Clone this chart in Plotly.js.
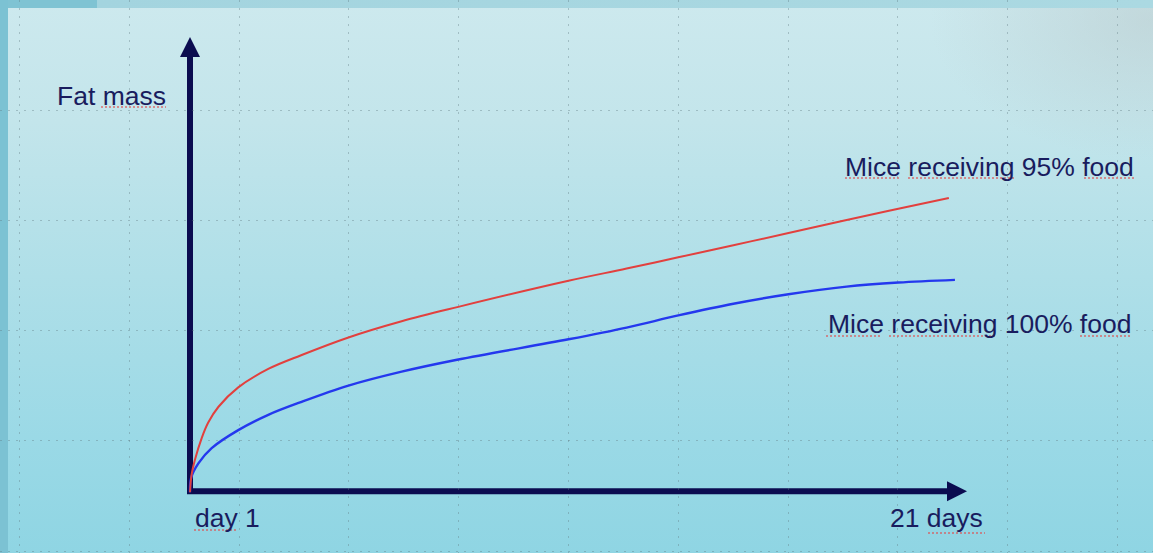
<!DOCTYPE html>
<html>
<head>
<meta charset="utf-8">
<script src="https://cdn.plot.ly/plotly-3.0.1.min.js"></script>
<style>
html,body{margin:0;padding:0;width:1153px;height:553px;overflow:hidden;}
#bg{position:absolute;left:0;top:0;width:1153px;height:553px;background:
 radial-gradient(ellipse 220px 140px at 1150px 20px, rgba(182,196,198,0.45), rgba(182,196,198,0) 100%),
 linear-gradient(180deg,#cde9ee 0%,#c3e5eb 22%,#afdfe8 50%,#9ad9e6 80%,#8fd5e3 100%);}
#topband{position:absolute;left:0;top:0;width:1153px;height:8px;background:linear-gradient(90deg,#7fc3d3 0,#7fc3d3 97px,#a3d4df 97px,#abd9e2 100%);}
#leftband{position:absolute;left:0;top:0;width:8px;height:553px;background:#7cc2d3;}
#chart{position:absolute;left:0;top:0;width:1153px;height:553px;}
</style>
</head>
<body>
<div id="bg"></div>
<div id="topband"></div>
<div id="leftband"></div>
<div id="chart"></div>
<script>
// ---- data (fat mass in arbitrary units) ----
const seriesNames = ['Mice receiving 95% food', 'Mice receiving 100% food'];
const days95  = [1, 1.04, 1.13, 1.31, 1.48, 1.75, 2.27, 3.06, 3.94, 5.17, 6.57, 8.06, 10.96, 12.49, 13.85, 15.30, 16.75, 18.28, 19.64, 20.97];
const fat95   = [-0.5, 3.3, 6.7, 11.6, 15.0, 18.5, 22.8, 26.9, 30.0, 33.9, 37.5, 40.7, 46.5, 49.2, 51.7, 54.4, 57.1, 60.0, 62.5, 64.9];
const days100 = [1, 1.03, 1.22, 1.57, 2.27, 3.06, 3.94, 5.17, 6.57, 8.06, 10.96, 12.49, 13.85, 15.30, 16.75, 18.28, 19.64, 21.13];
const fat100  = [-0.5, 2.7, 5.9, 9.3, 13.3, 16.7, 19.6, 23.2, 26.3, 29.0, 33.5, 36.1, 38.8, 41.4, 43.5, 45.2, 46.1, 46.7];
const xTickLabels = ['day 1', '21 days'];
const yAxisLabel = 'Fat mass';

// ---- styling / layout ----
const NAVY = '#0b0c50';
const TEXT = '#191c5e';
const FONT = 'Liberation Sans, Arial, sans-serif';
const FS = 26.5;
const X0 = 1;                     // axis origin (day 1)
const PXD = 38, PXV = 4.5;        // pixels per day / per unit
const xr = [X0 - 190/PXD, X0 + 963/PXD];
const yr = [-63/PXV, 490/PXV];

// blue first so that the red curve lies on top at the origin, as in the picture
const traces = [
  {x: days100, y: fat100, name: seriesNames[1], mode: 'lines',
   line: {color: '#2438ee', width: 2.4, shape: 'spline', smoothing: 1}, hoverinfo: 'skip'},
  {x: days95, y: fat95, name: seriesNames[0], mode: 'lines',
   line: {color: '#e2403e', width: 2, shape: 'spline', smoothing: 1}, hoverinfo: 'skip'}
];

const hx = 20/PXD, hy = 20/PXV;   // arrow head length
const wx = 10/PXD, wy = 10/PXV;   // arrow head half width
const yTop = (490-37)/PXV;        // vertical arrow tip
const xEnd = X0 + (967-190)/PXD;  // horizontal arrow tip
const axY = -1.3/PXV;

const shapes = [
  {type:'line', xref:'x', yref:'y', x0:X0, x1:X0, y0:-4/PXV, y1:yTop-hy+0.5, line:{color:NAVY, width:6}, layer:'below'},
  {type:'path', xref:'x', yref:'y', path:`M${X0-wx},${yTop-hy} L${X0+wx},${yTop-hy} L${X0},${yTop} Z`, fillcolor:NAVY, line:{width:0}, layer:'below'},
  {type:'line', xref:'x', yref:'y', x0:X0-3/PXD, x1:xEnd-hx+0.02, y0:axY, y1:axY, line:{color:NAVY, width:6}, layer:'below'},
  {type:'path', xref:'x', yref:'y', path:`M${xEnd-hx},${axY-wy} L${xEnd-hx},${axY+wy} L${xEnd},${axY} Z`, fillcolor:NAVY, line:{width:0}, layer:'below'}
];

// spell-check style wavy underlines seen under some words (pixel spans)
const squiggles = [[101,166,107],[845,901,178],[908,1015,178],[1084,1136,178],
                   [826,882,336],[889,997,336],[1080,1131,336],[194,238,530],[928,985,533]];
squiggles.forEach(s => shapes.push({type:'line', xref:'paper', yref:'paper',
  x0:s[0]/1153, x1:s[1]/1153, y0:1-s[2]/553, y1:1-s[2]/553,
  line:{color:'rgba(225,70,70,0.75)', width:1.3, dash:'2px,2px'}}));

function ann(text, x, y, xanchor) {
  return {text: text, x: x, y: y, xref: 'x', yref: 'y', xanchor: xanchor, yanchor: 'middle',
          showarrow: false, font: {family: FONT, size: FS, color: TEXT}};
}
const annotations = [
  ann(yAxisLabel, X0 + (55-190)/PXD, (490-95.8)/PXV, 'left'),
  ann(seriesNames[0], X0 + (1136-190)/PXD, (490-166.8)/PXV, 'right'),
  ann(seriesNames[1], X0 + (1133-190)/PXD, (490-323.8)/PXV, 'right'),
  ann(xTickLabels[0], X0 + (193-190)/PXD, (490-517.8)/PXV, 'left'),
  ann(xTickLabels[1], X0 + (985-190)/PXD, (490-517.8)/PXV, 'right')
];

const gridStyle = {gridcolor: 'rgba(95,120,130,0.38)', gridwidth: 1, griddash: '2px,6px'};
const layout = {
  width: 1153, height: 553,
  margin: {l: 0, r: 0, t: 0, b: 0, pad: 0},
  paper_bgcolor: 'rgba(0,0,0,0)', plot_bgcolor: 'rgba(0,0,0,0)',
  showlegend: false,
  xaxis: Object.assign({range: xr, showgrid: true, tick0: X0 + (19.5-190)/PXD, dtick: 109.8/PXD,
          zeroline: false, showticklabels: false, ticks: '', showline: false, fixedrange: true}, gridStyle),
  yaxis: Object.assign({range: yr, showgrid: true, tick0: (490-551)/PXV, dtick: 110.2/PXV,
          zeroline: false, showticklabels: false, ticks: '', showline: false, fixedrange: true}, gridStyle),
  shapes: shapes,
  annotations: annotations
};

Plotly.newPlot('chart', traces, layout, {displayModeBar: false, staticPlot: true});
</script>
</body>
</html>
